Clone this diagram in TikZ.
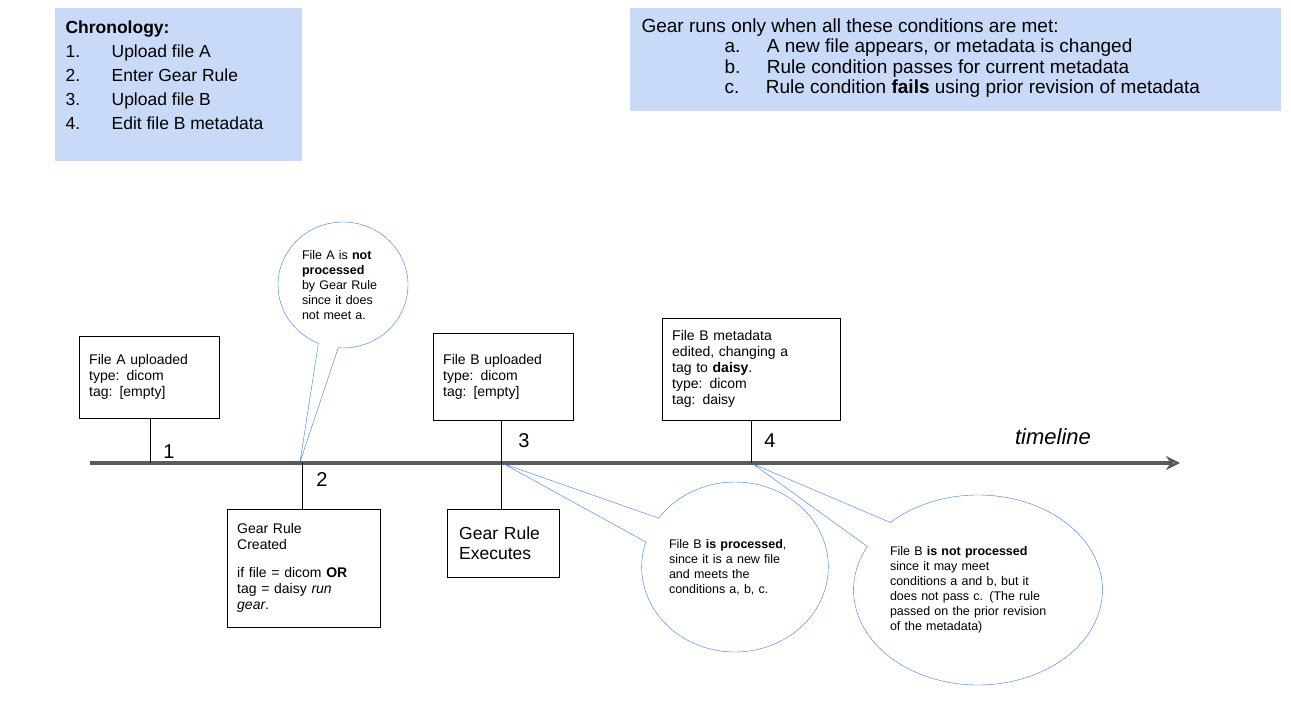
\documentclass[tikz,border=0pt]{standalone}
\usepackage{fontspec}
\setmainfont{Liberation Sans}
\usetikzlibrary{shapes.callouts,arrows.meta}
\definecolor{noteblue}{RGB}{201,218,248}
\definecolor{lineblue}{RGB}{60,120,230}
\definecolor{axisgray}{RGB}{90,90,90}
\begin{document}
\begin{tikzpicture}[
  x=1pt, y=-1pt,
  event/.style = {
    draw,
    shape=rectangle,
    anchor=north west,
    align=left,
    inner xsep=10pt,
    inner ysep=0pt,
    font=\fontsize{14}{16}\selectfont
  },
  bubble/.style = {
    draw=lineblue,
    shape=ellipse callout,
    align=left,
    inner sep=0pt,
    callout pointer arc=18,
    font=\fontsize{12.5}{15}\selectfont
  },
  tick/.style = {draw, line width=0.7pt},
  num/.style = {font=\fontsize{20}{20}\selectfont}
]
  \useasboundingbox (0,0) rectangle (1291,719);

  % notes on top
  \fill[noteblue] (55,8) rectangle (302,161);
  \node (chrono)[anchor=north west, align=left,
    font=\fontsize{17.5}{24}\selectfont] at (62,17)
    {\textbf{Chronology:}\\
     1.\hspace{1.8em}Upload file A\\
     2.\hspace{1.8em}Enter Gear Rule\\
     3.\hspace{1.8em}Upload file B\\
     4.\hspace{1.8em}Edit file B metadata};
  \fill[noteblue] (630,8) rectangle (1281,111);
  \node (cond)[anchor=north west, align=left,
    font=\fontsize{19}{20.5}\selectfont] at (638,15)
    {Gear runs only when all these conditions are met:\\
     \hspace{83pt}a.\hspace{1.4em}A new file appears, or metadata is changed\\
     \hspace{83pt}b.\hspace{1.4em}Rule condition passes for current metadata\\
     \hspace{83pt}c.\hspace{1.4em}Rule condition \textbf{fails} using prior revision of metadata};

  % timeline
  \coordinate (tstart) at (90,463);
  \coordinate (tend) at (1180,463);
  \draw[axisgray, line width=4pt, -{Stealth[length=14pt,width=14pt,open]}] (tstart) -- (tend);
  \node (tl)[font=\fontsize{22}{22}\selectfont\itshape] at (1053,437) {timeline};

  % events above
  \node (fileA)[event, text width=120pt, minimum height=82pt] at (79,336)
    {File A uploaded\\type: dicom\\tag: [empty]\\[2pt]};
  \node (fileB)[event, text width=120pt, minimum height=87pt] at (433,333)
    {File B uploaded\\type: dicom\\tag: [empty]\\[10pt]};
  \node (edit)[event, text width=158pt, minimum height=102pt] at (662,318)
    {File B metadata\\edited, changing a\\tag to \textbf{daisy}.\\type: dicom\\tag: daisy\\[2pt]};
  \coordinate (p1) at (150,463);
  \coordinate (p3) at (501,463);
  \coordinate (p4) at (751,463);
  \draw[tick] (fileA.south -| p1) -- (p1);
  \draw[tick] (fileB.south -| p3) -- (p3);
  \draw[tick] (edit.south -| p4) -- (p4);
  \node (n1)[num] at (169,452) {1};
  \node (n3)[num] at (524,441) {3};
  \node (n4)[num] at (770,441) {4};

  % events below
  \coordinate (p2) at (302,463);
  \node (rule)[event, text width=133pt, minimum height=118pt] at (227,509)
    {Gear Rule\\Created\\[12pt]if file = dicom \textbf{OR}\\tag = daisy \textit{run}\\\textit{gear}.\\[6pt]};
  \node (exec)[event, text width=88pt, minimum height=68pt,
    inner xsep=12pt, font=\fontsize{17.5}{20}\selectfont] at (447,509)
    {Gear Rule\\Executes\\[8pt]};
  \draw[tick] (p2) -- (rule.north -| p2);
  \draw[tick] (p3) -- (exec.north -| p3);
  \node (n2)[num] at (322,480) {2};

  % callouts
  \node (whyA)[bubble, minimum width=130pt, minimum height=126pt,
    callout absolute pointer={(300,462)}, text width=82pt] at (343,285)
    {File A is \textbf{not}\\\textbf{processed}\\by Gear Rule\\since it does\\not meet a.};
  \node (whyB)[bubble, minimum width=176pt, minimum height=170pt,
    callout absolute pointer={(504,464)}, text width=132pt] at (735,567)
    {File B \textbf{is processed},\\since it is a new file\\and meets the\\conditions a, b, c.\\[30pt]};
  \node (whyC)[bubble, minimum width=240pt, minimum height=190pt,
    callout absolute pointer={(753,464)}, text width=176pt] at (978,590)
    {File B \textbf{is not processed}\\since it may meet\\conditions a and b, but it\\does not pass c. (The rule\\passed on the prior revision\\of the metadata)\\[40pt]};
\end{tikzpicture}
\end{document}
